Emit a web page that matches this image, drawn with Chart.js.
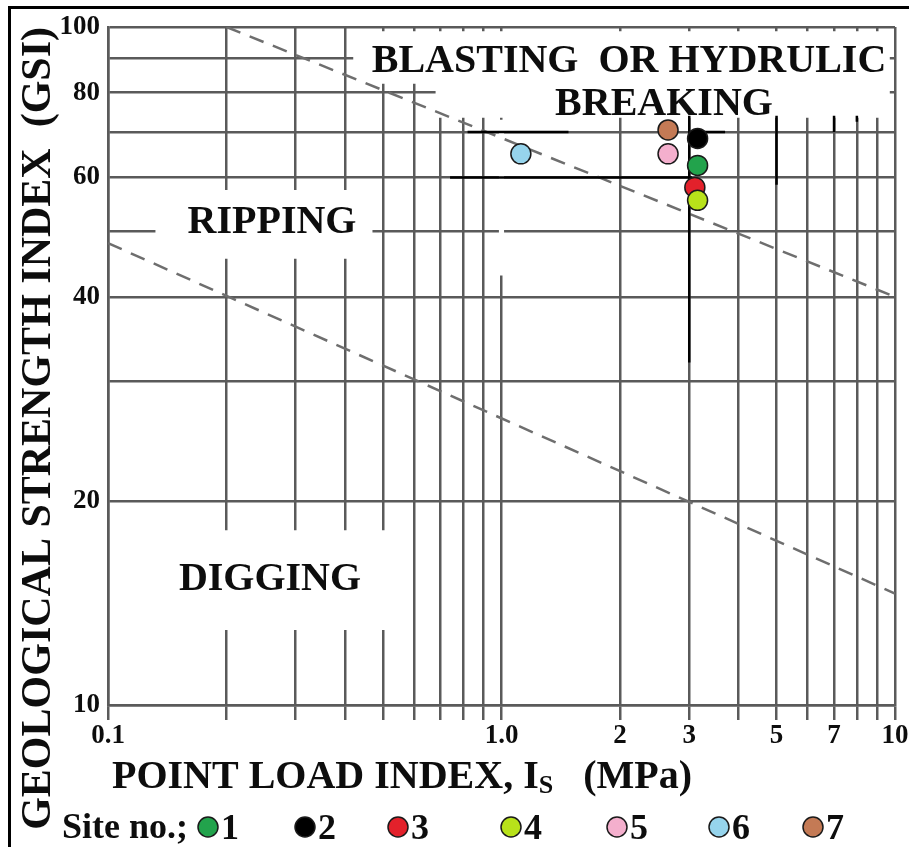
<!DOCTYPE html>
<html><head><meta charset="utf-8">
<script src="https://cdn.jsdelivr.net/npm/chart.js@4"></script>
<style>html,body{margin:0;padding:0;background:#fff;}canvas{display:block;}</style>
</head><body>
<canvas id="c" width="909" height="847"></canvas>
<script>
// ---------------- data ----------------
const xGridValues = [0.1,0.2,0.3,0.4,0.5,0.6,0.7,0.8,0.9,1,2,3,4,5,6,7,8,9,10];
const xLabelValues = [0.1, 1, 2, 3, 5, 7, 10];
const xLabelTexts  = ['0.1','1.0','2','3','5','7','10'];
const yGridValues = [10,20,30,40,50,60,70,80,90,100];
const yLabelValues = [10,20,40,60,80,100];
const yLabelTexts  = ['10','20','40','60','80','100'];

const siteNames  = ['1','2','3','4','5','6','7'];
const siteIs     = [3.15, 3.15, 3.1, 3.15, 2.65, 1.12, 2.65];
const siteGSI    = [62.5, 68.5, 58, 55.5, 65, 65, 70.5];
const siteColors = ['#22a34c','#000000','#e3212b','#b8e21a','#f4afcd','#96d4ec','#c47a55'];

const upperBoundaryIs  = [0.2, 10];
const upperBoundaryGSI = [100, 40];
const lowerBoundaryIs  = [0.1, 10];
const lowerBoundaryGSI = [48, 14.6];

// range marks [Is1, GSI1, Is2, GSI2]
const rangeMarks = [
  [0.82, 70, 1.48, 70],
  [3.0, 70, 3.7, 70],
  [0.74, 60, 3.05, 60],
  [3, 74, 3, 32],
  [5, 74, 5, 58.5],
  [7, 74, 7, 70],
  [8, 74, 8, 72.5]
];

const zoneTexts = ['BLASTING  OR HYDRULIC', 'BREAKING', 'RIPPING', 'DIGGING'];
const xTitleParts = ['POINT LOAD INDEX, I', 'S', '   (MPa)'];
const yTitle = 'GEOLOGICAL STRENGTH INDEX  (GSI)';
const legendTitle = 'Site no.;';

// ---------------- chart ----------------
const SERIF = '"Liberation Serif", "Times New Roman", serif';
const GRID = '#5a5a5a';

const datasets = [];
siteNames.forEach((n, i) => {
  const top = ['1','4','5','6'].includes(n) ? 0 : 1;
  datasets.push({
    label: n,
    data: [{x: siteIs[i], y: siteGSI[i]}],
    backgroundColor: siteColors[i],
    borderColor: '#1a1a1a',
    borderWidth: 1.5,
    pointRadius: 10,
    pointHoverRadius: 10,
    showLine: false,
    order: top
  });
});
rangeMarks.forEach((m, i) => {
  datasets.push({
    label: 'range' + i,
    data: [{x: m[0], y: m[1]}, {x: m[2], y: m[3]}],
    showLine: true, borderColor: '#000', borderWidth: 2.5, pointRadius: 0, order: 2
  });
});
datasets.push({
  label: 'upper boundary',
  data: upperBoundaryIs.map((v, i) => ({x: v, y: upperBoundaryGSI[i]})),
  showLine: true, borderColor: '#6e6e6e', borderWidth: 2.5, borderDash: [15, 10], pointRadius: 0, order: 3
});
datasets.push({
  label: 'lower boundary',
  data: lowerBoundaryIs.map((v, i) => ({x: v, y: lowerBoundaryGSI[i]})),
  showLine: true, borderColor: '#6e6e6e', borderWidth: 2.5, borderDash: [15, 10], pointRadius: 0, order: 3
});

// white masks (data coordinates) behind zone labels, then labels
const masks = [
  [[0.42,98.6],[9.7,98.6],[9.7,73.5],[0.68,73.5],[0.68,82.5],[0.42,82.5]],
  [[0.132,57.5],[0.47,57.5],[0.47,45.5],[0.132,45.5]],
  [[0.13,18.1],[0.55,18.1],[0.55,12.9],[0.13,12.9]],
  [[0.985,73],[1.015,73],[1.015,43],[0.985,43]]
];
const zonePlugin = {
  id: 'zones',
  beforeDatasetsDraw(chart) {
    const {ctx, scales: {x, y}} = chart;
    ctx.save();
    ctx.fillStyle = '#fff';
    masks.forEach(poly => {
      ctx.beginPath();
      poly.forEach(([a, b], i) => {
        const px = x.getPixelForValue(a), py = y.getPixelForValue(b);
        if (i) ctx.lineTo(px, py); else ctx.moveTo(px, py);
      });
      ctx.closePath();
      ctx.fill();
    });
    ctx.fillStyle = '#0d0d0d';
    ctx.font = 'bold 40px ' + SERIF;
    ctx.textAlign = 'center';
    ctx.textBaseline = 'alphabetic';
    const pos = [[629, 72], [664, 115], [272, 233], [270, 590]];
    zoneTexts.forEach((t, i) => ctx.fillText(t, pos[i][0], pos[i][1]));
    ctx.restore();
  }
};

const decorPlugin = {
  id: 'decor',
  afterDraw(chart) {
    const {ctx} = chart;
    ctx.save();
    // frame
    ctx.fillStyle = '#000';
    ctx.fillRect(8, 6, 901, 3);
    ctx.fillRect(8, 6, 3, 841);
    // x title with subscript
    ctx.fillStyle = '#0d0d0d';
    ctx.textAlign = 'left';
    ctx.textBaseline = 'alphabetic';
    let xx = 112;
    ctx.font = 'bold 40px ' + SERIF;
    ctx.fillText(xTitleParts[0], xx, 788);
    xx += ctx.measureText(xTitleParts[0]).width;
    ctx.font = 'bold 26px ' + SERIF;
    ctx.fillText(xTitleParts[1], xx, 793);
    xx += ctx.measureText(xTitleParts[1]).width;
    ctx.font = 'bold 40px ' + SERIF;
    ctx.fillText(xTitleParts[2], xx, 788);
    // legend
    ctx.font = 'bold 36px ' + SERIF;
    ctx.fillText(legendTitle, 62, 838);
    const mx = [208, 305, 398, 511, 617, 719, 813];
    siteNames.forEach((n, i) => {
      ctx.beginPath();
      ctx.arc(mx[i], 827, 10, 0, Math.PI * 2);
      ctx.fillStyle = siteColors[i];
      ctx.fill();
      ctx.lineWidth = 1.5;
      ctx.strokeStyle = '#1a1a1a';
      ctx.stroke();
      ctx.fillStyle = '#0d0d0d';
      ctx.font = 'bold 36px ' + SERIF;
      ctx.fillText(n, mx[i] + 13, 839);
    });
    ctx.restore();
  }
};

function near(a, b) { return Math.abs(a - b) < 1e-9 * Math.max(1, Math.abs(b)); }

new Chart(document.getElementById('c'), {
  type: 'scatter',
  data: {datasets},
  options: {
    responsive: false,
    animation: false,
    devicePixelRatio: 1,
    layout: {padding: {top: 27, right: 14, left: 0, bottom: 0}},
    plugins: {legend: {display: false}, tooltip: {enabled: false}},
    events: [],
    scales: {
      x: {
        type: 'logarithmic', min: 0.1, max: 10,
        afterBuildTicks: s => { s.ticks = xGridValues.map(v => ({value: v})); },
        afterFit: s => { s.height = 142; },
        grid: {color: GRID, lineWidth: 2.5, tickLength: 15, tickColor: GRID, drawTicks: true},
        border: {color: GRID, width: 2.5},
        ticks: {
          autoSkip: false, maxRotation: 0, padding: 0,
          color: '#0d0d0d', font: {family: SERIF, size: 27, weight: 'bold'},
          callback: v => { const k = xLabelValues.findIndex(a => near(a, v)); return k >= 0 ? xLabelTexts[k] : ''; }
        }
      },
      y: {
        type: 'logarithmic', min: 10, max: 100,
        afterBuildTicks: s => { s.ticks = yGridValues.map(v => ({value: v})); },
        afterFit: s => { s.width = 108; },
        grid: {color: GRID, lineWidth: 2.5, drawTicks: false},
        border: {color: GRID, width: 2.5},
        ticks: {
          autoSkip: false, padding: 8,
          color: '#0d0d0d', font: {family: SERIF, size: 27, weight: 'bold'},
          callback: v => { const k = yLabelValues.findIndex(a => near(a, v)); return k >= 0 ? yLabelTexts[k] : ''; }
        },
        title: {
          display: true, text: yTitle, align: 'end', color: '#0d0d0d',
          font: {family: SERIF, size: 42, weight: 'bold'},
          padding: {top: 14, bottom: 0}
        }
      }
    }
  },
  plugins: [zonePlugin, decorPlugin]
});
</script>
</body></html>
